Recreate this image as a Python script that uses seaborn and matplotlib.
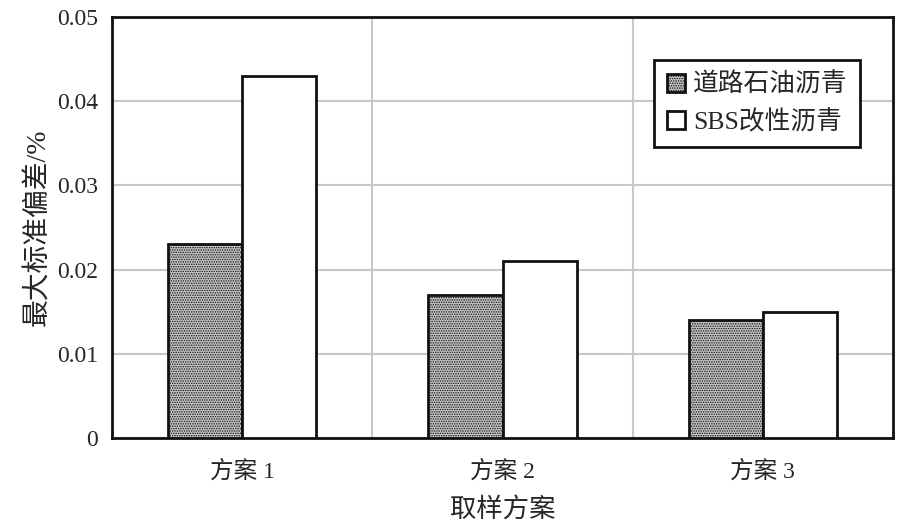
import matplotlib
matplotlib.use("Agg")
import matplotlib.pyplot as plt
import pandas as pd
import seaborn as sns

schemes = ["方案 1", "方案 2", "方案 3"]
asphalt_types = ["道路石油沥青", "SBS改性沥青"]
road_asphalt = [0.023, 0.017, 0.014]
sbs_asphalt = [0.043, 0.021, 0.015]
y_ticks = [0, 0.01, 0.02, 0.03, 0.04, 0.05]
y_tick_labels = ["0", "0.01", "0.02", "0.03", "0.04", "0.05"]

df = pd.DataFrame({
    "scheme": schemes * 2,
    "type": [asphalt_types[0]] * 3 + [asphalt_types[1]] * 3,
    "value": road_asphalt + sbs_asphalt,
})

sns.set_style("white")
plt.rcParams["font.family"] = ["Liberation Serif", "Noto Sans CJK SC", "DejaVu Sans"]
plt.rcParams["hatch.linewidth"] = 0.7

fig = plt.figure(figsize=(8.97, 5.29), dpi=100)
ax = fig.add_axes([0.125, 0.172, 0.8705, 0.796])

sns.barplot(
    data=df,
    x="scheme",
    y="value",
    hue="type",
    hue_order=asphalt_types,
    palette=["#c4c4c4", "white"],
    width=0.57,
    edgecolor="#111111",
    linewidth=2,
    ax=ax,
    zorder=3,
)

# dotted fill on the road asphalt bars
for patch in ax.patches:
    if patch.get_facecolor()[0] < 0.95:
        patch.set_hatch(".......")

ax.set_ylim(0, 0.05)
ax.set_xlim(-0.5, 2.5)
ax.set_yticks(y_ticks)
ax.set_yticklabels(y_tick_labels)
ax.set_xticks([0.5, 1.5], minor=True)
ax.grid(axis="y", which="major", color="#c8c8c8", linewidth=1.5, zorder=0)
ax.grid(axis="x", which="minor", color="#c8c8c8", linewidth=1.5, zorder=0)
ax.tick_params(axis="both", which="both", length=0, labelsize=17)
ax.tick_params(axis="x", pad=16)
ax.tick_params(axis="y", pad=10)

for spine in ax.spines.values():
    spine.set_color("#111111")
    spine.set_linewidth(2)

ax.set_xlabel("取样方案", fontsize=19, labelpad=10)
ax.set_ylabel("最大标准偏差/%", fontsize=20, labelpad=4)

leg = ax.legend(
    loc="upper right",
    bbox_to_anchor=(0.958, 0.898),
    borderaxespad=0,
    fontsize=18.5,
    frameon=True,
    fancybox=False,
    edgecolor="#111111",
    framealpha=1,
    handlelength=0.7,
    handleheight=0.7,
    handletextpad=0.3,
    borderpad=0.5,
    labelspacing=0.5,
)
leg.get_frame().set_linewidth(2)

fig.savefig("out.png", dpi=100)
